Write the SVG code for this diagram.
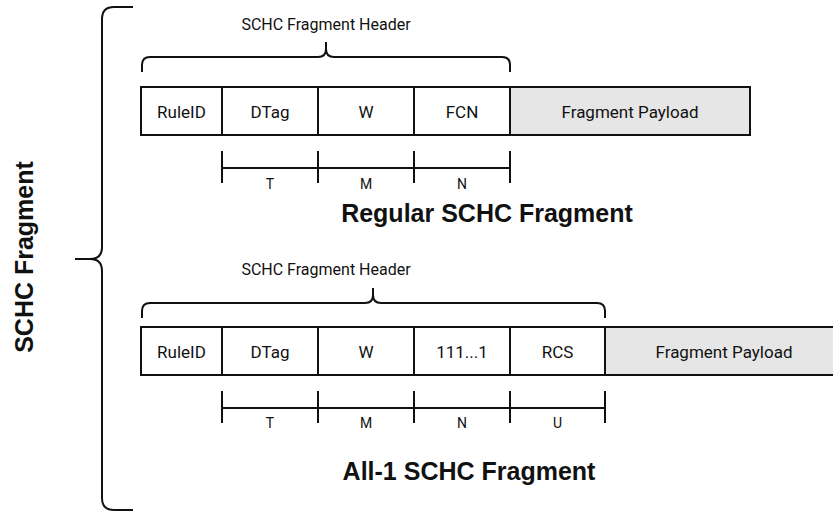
<svg xmlns="http://www.w3.org/2000/svg" width="833" height="511" viewBox="0 0 833 511">
  <style>
    .cell { fill: #ffffff; stroke: #111; stroke-width: 2; }
    .pay { fill: #e6e6e6; stroke: #111; stroke-width: 2; }
    .ln { fill: none; stroke: #111; stroke-width: 2; }
    .brace { fill: none; stroke: #111; stroke-width: 2; stroke-linejoin: round; }
    .t { font-family: Roboto, "Liberation Sans", sans-serif; font-size: 17px; fill: #111; text-anchor: middle; }
    .hdr { font-family: Roboto, "Liberation Sans", sans-serif; font-size: 16px; fill: #111; text-anchor: middle; }
    .sz { font-family: Roboto, "Liberation Sans", sans-serif; font-size: 14px; fill: #111; text-anchor: middle; }
    .title { font-family: "Liberation Sans", Arial, sans-serif; font-weight: bold; font-size: 25px; fill: #111; text-anchor: middle; }
  </style>

  <!-- outer brace grouping both fragment formats -->
  <g id="outer-brace">
    <path class="brace" d="M133,7 H114 Q102,7 102,19 V247 Q102,259 90,259 H75 M90,259 Q102,259 102,271 V498 Q102,510 114,510 H133"/>
    <text class="title" transform="translate(33,257) rotate(-90)">SCHC Fragment</text>
  </g>

  <!-- Regular SCHC Fragment -->
  <g id="regular-header-brace">
    <text class="hdr" x="326" y="30">SCHC Fragment Header</text>
    <path class="brace" d="M142,72 V65 Q142,57 150,57 H318 Q326,57 326,49 V42 M326,49 Q326,57 334,57 H502 Q510,57 510,65 V72"/>
  </g>
  <g id="regular-ruleid"><rect class="cell" x="141" y="87" width="81" height="48"/><text class="t" x="181.5" y="118">RuleID</text></g>
  <g id="regular-dtag"><rect class="cell" x="222" y="87" width="96" height="48"/><text class="t" x="270" y="118">DTag</text></g>
  <g id="regular-w"><rect class="cell" x="318" y="87" width="96" height="48"/><text class="t" x="366" y="118">W</text></g>
  <g id="regular-fcn"><rect class="cell" x="414" y="87" width="96" height="48"/><text class="t" x="462" y="118">FCN</text></g>
  <g id="regular-payload"><rect class="pay" x="510" y="87" width="240" height="48"/><text class="t" x="630" y="118">Fragment Payload</text></g>
  <g id="regular-sizes">
    <path class="ln" d="M222,151 V183 M318,151 V183 M414,151 V183 M510,151 V183 M222,168 H510"/>
    <text class="sz" x="270" y="189">T</text>
    <text class="sz" x="366" y="189">M</text>
    <text class="sz" x="462" y="189">N</text>
  </g>
  <text class="title" x="487" y="222">Regular SCHC Fragment</text>

  <!-- All-1 SCHC Fragment -->
  <g id="all1-header-brace">
    <text class="hdr" x="326" y="275">SCHC Fragment Header</text>
    <path class="brace" d="M142,318 V311 Q142,303 150,303 H365 Q373,303 373,295 V288 M373,295 Q373,303 381,303 H597 Q605,303 605,311 V318"/>
  </g>
  <g id="all1-ruleid"><rect class="cell" x="141" y="327" width="81" height="48"/><text class="t" x="181.5" y="358">RuleID</text></g>
  <g id="all1-dtag"><rect class="cell" x="222" y="327" width="96" height="48"/><text class="t" x="270" y="358">DTag</text></g>
  <g id="all1-w"><rect class="cell" x="318" y="327" width="96" height="48"/><text class="t" x="366" y="358">W</text></g>
  <g id="all1-fcn"><rect class="cell" x="414" y="327" width="96" height="48"/><text class="t" x="462" y="358">111...1</text></g>
  <g id="all1-rcs"><rect class="cell" x="510" y="327" width="95" height="48"/><text class="t" x="557.5" y="358">RCS</text></g>
  <g id="all1-payload"><rect class="pay" x="605" y="327" width="230" height="48"/><text class="t" x="724" y="358">Fragment Payload</text></g>
  <g id="all1-sizes">
    <path class="ln" d="M222,391 V423 M318,391 V423 M414,391 V423 M510,391 V423 M605,391 V423 M222,408 H605"/>
    <text class="sz" x="270" y="428">T</text>
    <text class="sz" x="366" y="428">M</text>
    <text class="sz" x="462" y="428">N</text>
    <text class="sz" x="557.5" y="428">U</text>
  </g>
  <text class="title" x="469" y="480">All-1 SCHC Fragment</text>
</svg>
